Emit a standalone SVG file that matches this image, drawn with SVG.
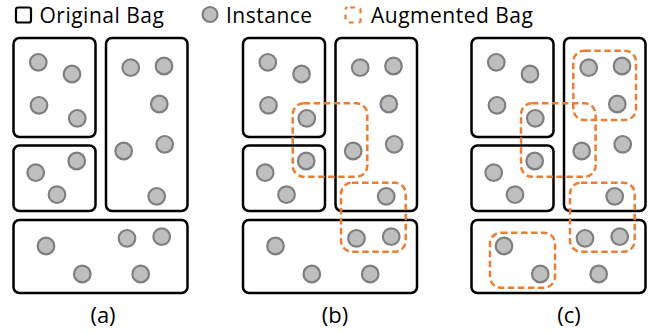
<svg xmlns="http://www.w3.org/2000/svg" width="656" height="333" viewBox="0 0 656 333">
<defs>
<style>
.bag{fill:#fff;stroke:#000;stroke-width:2.5}
.aug{fill:none;stroke:#ED7D31;stroke-width:2.5;stroke-dasharray:6.5 3.5}
.inst{fill:#BFBFBF;stroke:#7F7F7F;stroke-width:2.2}
.t{font-family:"Open Sans","Liberation Sans",sans-serif;font-size:22px;fill:#000}
.lg{font-size:21px;letter-spacing:0.5px}
</style>
<g id="bags">
<rect class="bag" x="13.5" y="38" width="82" height="99" rx="6"/>
<rect class="bag" x="106" y="38" width="81.5" height="173" rx="6"/>
<rect class="bag" x="13.5" y="145.5" width="82" height="65.5" rx="6"/>
<rect class="bag" x="13.5" y="220" width="174" height="73" rx="6"/>
</g>
<g id="insts">
<circle class="inst" cx="38.3" cy="62.3" r="8.3"/>
<circle class="inst" cx="72" cy="74" r="8.3"/>
<circle class="inst" cx="39" cy="105.3" r="8.3"/>
<circle class="inst" cx="77.3" cy="118.3" r="8.3"/>
<circle class="inst" cx="130.7" cy="67.7" r="8.3"/>
<circle class="inst" cx="164" cy="66" r="8.3"/>
<circle class="inst" cx="159.3" cy="104" r="8.3"/>
<circle class="inst" cx="123.7" cy="151" r="8.3"/>
<circle class="inst" cx="164.7" cy="144.3" r="8.3"/>
<circle class="inst" cx="156.7" cy="196.3" r="8.3"/>
<circle class="inst" cx="76.7" cy="161" r="8.3"/>
<circle class="inst" cx="35.7" cy="172.7" r="8.3"/>
<circle class="inst" cx="57" cy="194.7" r="8.3"/>
<circle class="inst" cx="46" cy="246" r="8.3"/>
<circle class="inst" cx="127" cy="238.3" r="8.3"/>
<circle class="inst" cx="161.7" cy="236.7" r="8.3"/>
<circle class="inst" cx="82.3" cy="274" r="8.3"/>
<circle class="inst" cx="140.7" cy="274" r="8.3"/>
</g>
</defs>

<g id="legend">
<rect x="16" y="7.5" width="15" height="15" rx="2" fill="#fff" stroke="#000" stroke-width="2.2"/>
<text class="t lg" x="39.5" y="22.8">Original Bag</text>
<circle class="inst" cx="210" cy="14.5" r="7.5"/>
<text class="t lg" x="226" y="22.8">Instance</text>
<rect x="345.5" y="7.5" width="15" height="15" rx="2" fill="none" stroke="#ED7D31" stroke-width="2.2" stroke-dasharray="5 5" stroke-dashoffset="-2.5"/>
<text class="t lg" x="371" y="22.8">Augmented Bag</text>
</g>

<g id="panel-a">
<use href="#bags"/>
<use href="#insts"/>
<text class="t" x="103" y="323" text-anchor="middle">(a)</text>
</g>

<g id="panel-b">
<g transform="translate(229.5,0)">
<use href="#bags"/>
<use href="#insts"/>
<rect class="aug" x="63.2" y="103.3" width="74.6" height="73.4" rx="11"/>
<rect class="aug" x="111.5" y="182.7" width="64.7" height="69" rx="11"/>
</g>
<text class="t" x="335" y="323" text-anchor="middle">(b)</text>
</g>

<g id="panel-c">
<g transform="translate(458,0)">
<use href="#bags"/>
<use href="#insts"/>
<rect class="aug" x="63" y="103.3" width="74.6" height="73.4" rx="11"/>
<rect class="aug" x="115.3" y="50.7" width="62.7" height="69.3" rx="11"/>
<rect class="aug" x="112" y="182.7" width="64.7" height="69" rx="11"/>
<rect class="aug" x="32" y="232.7" width="65" height="55" rx="11"/>
</g>
<text class="t" x="569" y="323" text-anchor="middle">(c)</text>
</g>
</svg>
